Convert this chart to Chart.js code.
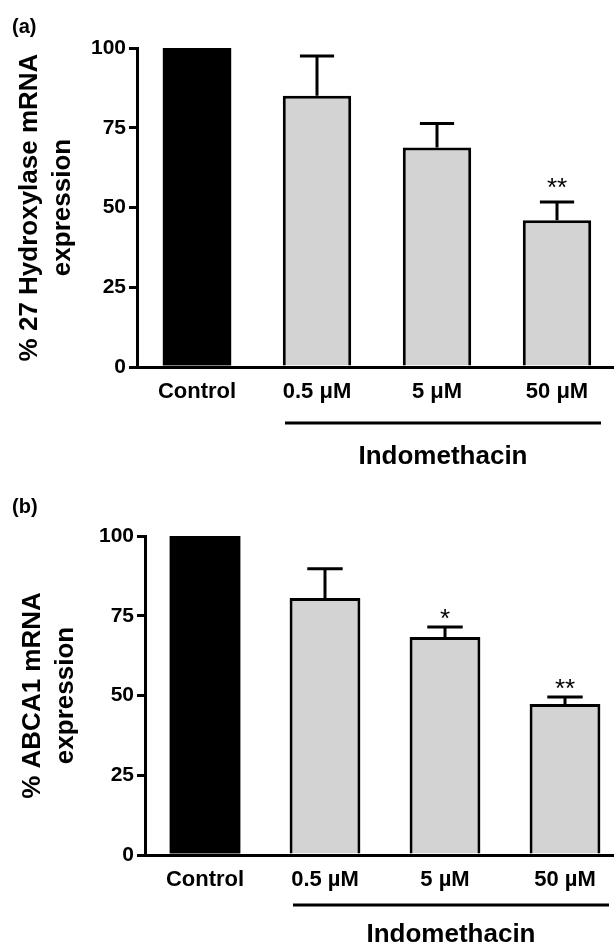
<!DOCTYPE html>
<html>
<head>
<meta charset="utf-8">
<script src="https://cdn.jsdelivr.net/npm/chart.js@4"></script>
<style>
  body { margin: 0; background: #fff; width: 614px; height: 945px; overflow: hidden; }
  .panel { position: relative; width: 614px; overflow: hidden; }
  canvas { display: block; }
</style>
</head>
<body>
<div class="panel" style="height:470px"><canvas id="chartA" width="617" height="470"></canvas></div>
<div class="panel" style="height:475px"><canvas id="chartB" width="625" height="475"></canvas></div>
<script>
const FONT = "'Liberation Sans', Arial, sans-serif";

// panel (a)
const categoriesA = ["Control", "0.5 \u03bcM", "5 \u03bcM", "50 \u03bcM"];
const valuesA = [100, 85, 68.8, 46];
const errorsA = [0, 12.5, 7.5, 5.7];
const starsA = ["", "", "", "**"];

// panel (b)
const categoriesB = ["Control", "0.5 \u00b5M", "5 \u00b5M", "50 \u00b5M"];
const valuesB = [100, 80.6, 68.3, 47.3];
const errorsB = [0, 9.1, 3.2, 2.2];
const starsB = ["", "", "*", "**"];

const yTicks = [0, 25, 50, 75, 100];
const barColors = ["#000000", "#d3d3d3", "#d3d3d3", "#d3d3d3"];
const barBorders = [0, 3, 3, 3];

// error bars, stars, the Indomethacin bracket and the panel letter
const extras = {
  id: "extras",
  afterDatasetsDraw(chart, args, o) {
    const { ctx, scales: { x, y } } = chart;
    const meta = chart.getDatasetMeta(0);
    ctx.save();
    ctx.strokeStyle = "#000";
    ctx.fillStyle = "#000";
    ctx.lineWidth = 3;
    o.errors.forEach((e, i) => {
      const bar = meta.data[i];
      if (e > 0) {
        const top = y.getPixelForValue(o.values[i]);
        const cap = y.getPixelForValue(o.values[i] + e);
        const half = bar.width / 4;
        ctx.beginPath();
        ctx.moveTo(bar.x, top);
        ctx.lineTo(bar.x, cap);
        ctx.moveTo(bar.x - half, cap);
        ctx.lineTo(bar.x + half, cap);
        ctx.stroke();
      }
      if (o.stars[i]) {
        const cap = y.getPixelForValue(o.values[i] + e);
        ctx.font = "26px " + FONT;
        ctx.textAlign = "center";
        ctx.textBaseline = "alphabetic";
        ctx.fillText(o.stars[i], bar.x, cap - o.starGap);
      }
    });
    const x1 = x.getPixelForValue(1) - 32;
    const x3 = x.getPixelForValue(3) + 44;
    const ly = y.getPixelForValue(0) + o.lineGap;
    ctx.beginPath();
    ctx.moveTo(x1, ly);
    ctx.lineTo(x3, ly);
    ctx.stroke();
    ctx.font = "bold 26px " + FONT;
    ctx.textAlign = "center";
    ctx.textBaseline = "alphabetic";
    ctx.fillText("Indomethacin", (x1 + x3) / 2, ly + o.textGap);
    ctx.font = "bold 20px " + FONT;
    ctx.textAlign = "left";
    ctx.fillText(o.letter, 12, o.letterY);
    ctx.restore();
  }
};

function makeChart(id, categories, values, errors, stars, title, lay) {
  new Chart(document.getElementById(id), {
    type: "bar",
    data: {
      labels: categories,
      datasets: [{
        data: values,
        backgroundColor: barColors,
        borderColor: "#000",
        borderWidth: barBorders,
        borderSkipped: "start",
        barPercentage: lay.barPct,
        categoryPercentage: 1
      }]
    },
    options: {
      responsive: false,
      animation: false,
      layout: { padding: { top: lay.top, left: 0, right: 0, bottom: 0 } },
      plugins: {
        legend: { display: false },
        tooltip: { enabled: false },
        extras: { values, errors, stars, starGap: lay.starGap, lineGap: lay.lineGap, textGap: lay.textGap, letter: lay.letter, letterY: lay.letterY }
      },
      scales: {
        x: {
          afterFit: s => { s.height = lay.xHeight; },
          grid: { display: false, drawTicks: false },
          border: { display: true, color: "#000", width: 3 },
          ticks: { color: "#000", padding: 12, font: { family: FONT, size: 22, weight: "bold" } }
        },
        y: {
          min: 0,
          max: 100,
          afterFit: s => { s.width = lay.yWidth; },
          afterBuildTicks: s => { s.ticks = yTicks.map(v => ({ value: v })); },
          grid: { drawOnChartArea: false, drawTicks: true, tickLength: 8, color: "#000", lineWidth: 3 },
          border: { display: true, color: "#000", width: 3 },
          ticks: { color: "#000", padding: 3, font: { family: FONT, size: 21, weight: "bold" } },
          title: {
            display: true,
            text: title,
            color: "#000",
            font: { family: FONT, size: lay.titleSize, weight: "bold", lineHeight: 1.27 },
            padding: { top: lay.titlePad, bottom: 0 }
          }
        }
      }
    },
    plugins: [extras]
  });
}

makeChart("chartA", categoriesA, valuesA, errorsA, starsA, ["% 27 Hydroxylase mRNA", "expression"],
  { top: 48, xHeight: 103, yWidth: 137, barPct: 0.57, starGap: 6, lineGap: 56, textGap: 41, letter: "(a)", letterY: 33, titleSize: 26, titlePad: 13 });
makeChart("chartB", categoriesB, valuesB, errorsB, starsB, ["% ABCA1 mRNA", "expression"],
  { top: 66, xHeight: 90, yWidth: 145, barPct: 0.59, starGap: 0, lineGap: 50, textGap: 37, letter: "(b)", letterY: 43, titleSize: 26, titlePad: 16 });
</script>
</body>
</html>
